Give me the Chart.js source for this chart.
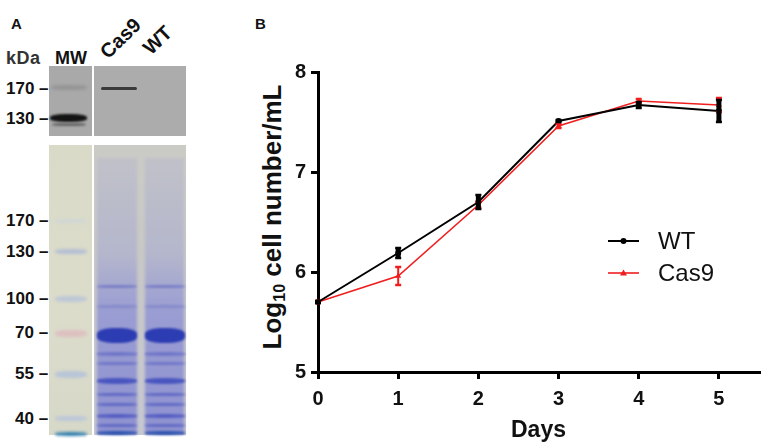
<!DOCTYPE html>
<html>
<head>
<meta charset="utf-8">
<script src="https://cdn.jsdelivr.net/npm/chart.js@4.4.1/dist/chart.umd.min.js"></script>
<style>
  html, body { margin:0; padding:0; background:#fff; }
  body { width:765px; height:446px; position:relative; overflow:hidden; font-family:"Liberation Sans", Arial, sans-serif; }
  .abs { position:absolute; }
  .lbl { position:absolute; font-weight:bold; color:#111; white-space:nowrap; line-height:1; }
  .mk { position:absolute; font-weight:bold; font-size:17px; color:#111; white-space:nowrap; line-height:1; transform:translateY(-50%); }
  .band { position:absolute; border-radius:40%; }
  #chartWrap { position:absolute; left:250px; top:0; width:515px; height:446px; }
  #ytitle { position:absolute; left:273px; top:217px; transform:translate(-50%,-50%) rotate(-90deg); font-weight:bold; font-size:26px; white-space:nowrap; color:#111; line-height:1; }
  #ytitle sub { font-size:0.62em; vertical-align:-0.25em; }
</style>
</head>
<body>
<!-- Panel A (blot / gel image approximated) -->
<div class="lbl" style="left:11px;top:16px;font-size:15px;">A</div>
<div class="lbl" style="left:6px;top:49px;font-size:18px;color:#333;letter-spacing:0.5px;">kDa</div>
<div class="lbl" style="left:55px;top:49px;font-size:18px;">MW</div>
<div class="lbl" style="left:110px;top:42px;font-size:20px;transform:rotate(-44deg);transform-origin:left bottom;">Cas9</div>
<div class="lbl" style="left:153px;top:38px;font-size:20px;transform:rotate(-44deg);transform-origin:left bottom;">WT</div>

<div class="abs" style="left:49px;top:66px;width:43px;height:70px;background:#a9a9a9;"></div>
<div class="abs" style="left:94px;top:66px;width:92px;height:70px;background:#acacac;"></div>
<div class="band" style="left:51px;top:85px;width:36px;height:5px;background:#959595;filter:blur(1.5px);"></div>
<div class="band" style="left:50px;top:114px;width:37px;height:8px;background:#141414;filter:blur(1px);"></div>
<div class="band" style="left:52px;top:123px;width:34px;height:3px;background:#666;filter:blur(1px);"></div>
<div class="band" style="left:101px;top:87px;width:36px;height:3px;background:#3a3a3a;filter:blur(0.6px);border-radius:2px;"></div>

<div class="mk" style="left:6px;top:88px;">170 –</div>
<div class="mk" style="left:6px;top:118px;">130 –</div>

<div class="abs" style="left:49px;top:145px;width:43px;height:290px;background:linear-gradient(#d9dbc8,#dcdccb 60%,#d6d8c8);"></div>
<div class="abs" style="left:94px;top:145px;width:92px;height:290px;background:linear-gradient(#cbcbc6,#c8c8c6 40%,#c6c8d0);"></div>
<div class="abs" style="left:97px;top:158px;width:40px;height:276px;background:linear-gradient(#c0c1c8,#b4b6cc 35%,#9a9dd2 55%,#8e92d0 100%);filter:blur(1.5px);"></div>
<div class="abs" style="left:145px;top:158px;width:39px;height:276px;background:linear-gradient(#c0c1c8,#b4b6cc 35%,#9a9dd2 55%,#8e92d0 100%);filter:blur(1.5px);"></div>
<div id="gelBands"></div>

<div class="mk" style="left:6px;top:220px;">170 –</div>
<div class="mk" style="left:6px;top:251px;">130 –</div>
<div class="mk" style="left:6px;top:298px;">100 –</div>
<div class="mk" style="left:15px;top:332px;">70 –</div>
<div class="mk" style="left:15px;top:373px;">55 –</div>
<div class="mk" style="left:15px;top:418px;">40 –</div>

<!-- Panel B -->
<div class="lbl" style="left:255px;top:16px;font-size:15px;">B</div>
<div id="ytitle">Log<sub>10</sub> cell number/mL</div>
<div id="chartWrap"><canvas id="c"></canvas></div>

<script>
// ---- gel decoration (panel A) ----
const laneLefts = [97, 145];
const laneBands = [[285,3,'#7a7fc6'],[305,3,'#868bca'],[328,15,'#2c3cb2'],[352,4,'#7076c8'],[362,3,'#7076c8'],[378,6,'#4a56c0'],[393,3,'#626ac4'],[403,3,'#626ac4'],[414,4,'#565ec2'],[424,3,'#626ac4'],[431,4,'#2f55b0']];
const ladder = [[219,4,'#d0d6d6'],[249,5,'#b4bed4'],[296,6,'#bdc7d6'],[330,7,'#dcc0c0'],[371,7,'#b8c5d8'],[416,5,'#bcc7d8'],[432,4,'#2f7fb0']];
const gb = document.getElementById('gelBands');
laneLefts.forEach(l => laneBands.forEach(([t,h,c]) => {
  const d = document.createElement('div'); d.className='band';
  d.style.cssText = `left:${l}px;top:${t}px;width:40px;height:${h}px;background:${c};filter:blur(1px);`;
  gb.appendChild(d);
}));
ladder.forEach(([t,h,c]) => {
  const d = document.createElement('div'); d.className='band';
  d.style.cssText = `left:55px;top:${t}px;width:32px;height:${h}px;background:${c};filter:blur(1.5px);`;
  gb.appendChild(d);
});

// ---- chart data (panel B) ----
const days = [0, 1, 2, 3, 4, 5];
const wtMean = [5.70, 6.19, 6.70, 7.51, 7.67, 7.61];
const wtErr = [0.01, 0.05, 0.07, 0.01, 0.03, 0.11];
const cas9Mean = [5.70, 5.96, 6.67, 7.46, 7.71, 7.67];
const cas9Err = [0.01, 0.09, 0.03, 0.02, 0.02, 0.07];
const yTicks = [5, 6, 7, 8];
const seriesLabels = ['WT', 'Cas9'];

const FONT = '"Liberation Sans", Arial, sans-serif';

const errorBars = {
  id: 'errorBars',
  afterDatasetsDraw(chart) {
    const { ctx, scales: { x, y } } = chart;
    const order = [1, 0];
    order.forEach(di => {
      const ds = chart.data.datasets[di];
      ctx.save();
      ctx.strokeStyle = ds.borderColor;
      ctx.lineWidth = ds.errLineWidth;
      ds.data.forEach((p, i) => {
        const e = ds.errors[i];
        const px = x.getPixelForValue(p.x);
        const t = y.getPixelForValue(p.y + e);
        const b = y.getPixelForValue(p.y - e);
        const hw = ds.capHalf;
        ctx.beginPath();
        ctx.moveTo(px, t); ctx.lineTo(px, b);
        ctx.stroke();
        ctx.lineWidth = ds.capWidth;
        ctx.beginPath();
        ctx.moveTo(px - hw, t); ctx.lineTo(px + hw, t);
        ctx.moveTo(px - hw, b); ctx.lineTo(px + hw, b);
        ctx.stroke();
        ctx.lineWidth = ds.errLineWidth;
      });
      ctx.restore();
    });
  }
};

const insideLegend = {
  id: 'insideLegend',
  afterDraw(chart) {
    const { ctx } = chart;
    const x0 = 358, x1 = 389, tx = 408;
    const ys = [241, 273];
    chart.data.datasets.forEach((ds, i) => {
      const yy = ys[i];
      ctx.save();
      ctx.strokeStyle = ds.borderColor;
      ctx.lineWidth = ds.borderWidth;
      ctx.beginPath(); ctx.moveTo(x0, yy); ctx.lineTo(x1, yy); ctx.stroke();
      ctx.fillStyle = ds.borderColor;
      const cx = (x0 + x1) / 2;
      ctx.beginPath();
      if (ds.pointStyle === 'triangle') {
        ctx.moveTo(cx, yy - 3.5); ctx.lineTo(cx + 3.5, yy + 2.5); ctx.lineTo(cx - 3.5, yy + 2.5); ctx.closePath();
      } else {
        ctx.arc(cx, yy, 3, 0, Math.PI * 2);
      }
      ctx.fill();
      ctx.fillStyle = '#111';
      ctx.font = '24px ' + FONT;
      ctx.textBaseline = 'middle';
      ctx.fillText(ds.label, tx, yy + 1);
      ctx.restore();
    });
  }
};

new Chart(document.getElementById('c'), {
  type: 'line',
  data: {
    datasets: [
      {
        label: seriesLabels[0],
        data: days.map((d, i) => ({ x: d, y: wtMean[i] })),
        errors: wtErr,
        borderColor: '#000000',
        backgroundColor: '#000000',
        borderWidth: 2,
        pointStyle: 'circle',
        pointRadius: 3,
        pointBackgroundColor: '#000000',
        pointBorderWidth: 0,
        errLineWidth: 5,
        capWidth: 2.5,
        capHalf: 3,
        tension: 0,
        clip: false
      },
      {
        label: seriesLabels[1],
        data: days.map((d, i) => ({ x: d, y: cas9Mean[i] })),
        errors: cas9Err,
        borderColor: '#f01e1e',
        backgroundColor: '#f01e1e',
        borderWidth: 1.6,
        pointStyle: 'triangle',
        pointRadius: 3.5,
        pointBackgroundColor: '#f01e1e',
        pointBorderWidth: 0,
        errLineWidth: 2,
        capWidth: 2.5,
        capHalf: 3,
        tension: 0,
        clip: false
      }
    ]
  },
  options: {
    responsive: true,
    maintainAspectRatio: false,
    animation: false,
    layout: { padding: { left: 0, top: 72, right: 6, bottom: 0 } },
    plugins: { legend: { display: false }, tooltip: { enabled: false } },
    scales: {
      x: {
        type: 'linear',
        min: 0,
        max: 5.5,
        afterBuildTicks: (axis) => { axis.ticks = days.map(v => ({ value: v })); },
        afterFit: (scale) => { scale.height = 74; },
        ticks: { color: '#111', font: { family: FONT, size: 20, weight: 'bold' }, padding: 8 },
        grid: { drawOnChartArea: false, drawTicks: true, tickLength: 7, color: '#000', lineWidth: 3 },
        border: { display: true, color: '#000', width: 3 },
        title: { display: true, text: 'Days', color: '#111', font: { family: FONT, size: 23, weight: 'bold' }, padding: { top: 0, bottom: 2 } }
      },
      y: {
        type: 'linear',
        min: 5,
        max: 8,
        afterBuildTicks: (axis) => { axis.ticks = yTicks.map(v => ({ value: v })); },
        afterFit: (scale) => { scale.width = 68; },
        ticks: { color: '#111', font: { family: FONT, size: 20, weight: 'bold' }, padding: 5 },
        grid: { drawOnChartArea: false, drawTicks: true, tickLength: 7, color: '#000', lineWidth: 3 },
        border: { display: true, color: '#000', width: 3 }
      }
    }
  },
  plugins: [errorBars, insideLegend]
});
</script>
</body>
</html>
